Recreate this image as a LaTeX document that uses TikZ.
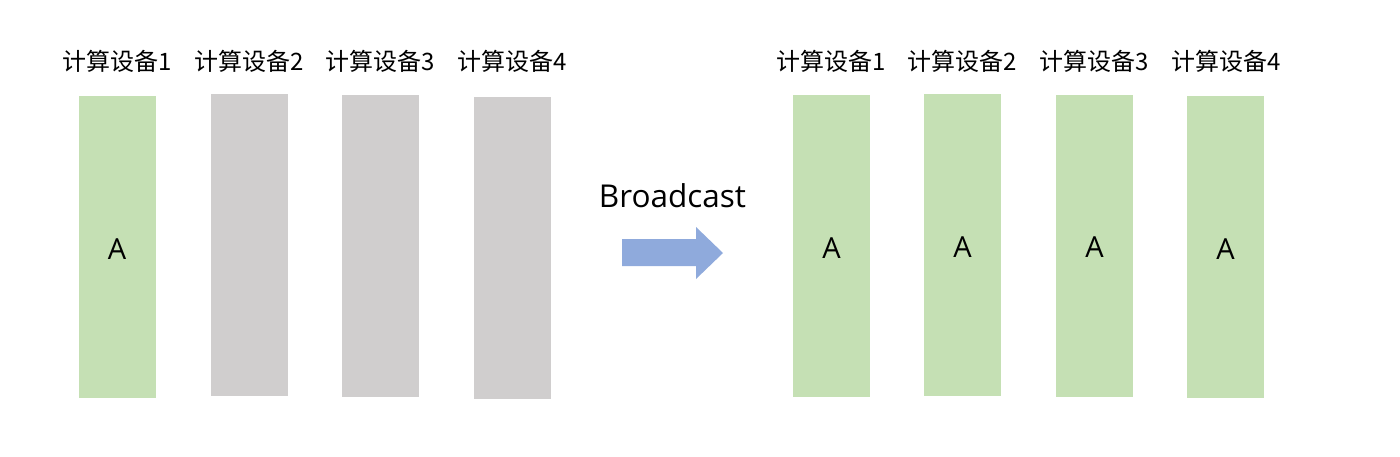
\documentclass[tikz,border=0pt]{standalone}
\usepackage{fontspec}
\setmainfont{Open Sans}
\newfontfamily\cjk{Noto Sans CJK SC}
\definecolor{devgreen}{HTML}{C5E0B4}
\definecolor{devgray}{HTML}{D0CECE}
\definecolor{arrowblue}{HTML}{8FAADC}
\begin{document}
\begin{tikzpicture}[x=1pt,y=-1pt,
  dev/.style={minimum width=77pt, minimum height=302pt, inner sep=0pt, draw=none},
  devlabel/.style={font=\cjk\fontsize{24}{28}\selectfont, inner sep=0pt},
  content/.style={font=\fontsize{29}{34}\selectfont, inner sep=0pt}]
\useasboundingbox (0,0) rectangle (1400,456);
% left group
\node[dev, fill=devgreen] (l1) at (117,247) {};
\node[dev, fill=devgray] (l2) at (249.5,245) {};
\node[dev, fill=devgray] (l3) at (380.5,245.5) {};
\node[dev, fill=devgray] (l4) at (512.5,247.5) {};
\node[content] (la) at (117,249) {A};
\node[devlabel] (t1) at (117,61) {计算设备1};
\node[devlabel] (t2) at (249.5,61) {计算设备2};
\node[devlabel] (t3) at (380.5,61) {计算设备3};
\node[devlabel] (t4) at (512.5,61) {计算设备4};
% arrow
\node[font=\fontsize{31.5}{38}\selectfont, inner sep=0pt, anchor=base] (bc) at (672.5,207) {Broadcast};
\fill[arrowblue] (622,239) -- (696,239) -- (696,227) -- (723,253) -- (696,279) -- (696,266) -- (622,266) -- cycle;
% right group
\node[dev, fill=devgreen] (r1) at (831.5,246) {};
\node[dev, fill=devgreen] (r2) at (962.5,245) {};
\node[dev, fill=devgreen] (r3) at (1094.5,245.5) {};
\node[dev, fill=devgreen] (r4) at (1225.5,246.5) {};
\node[content] (ra1) at (831.5,248) {A};
\node[content] (ra2) at (962.5,247) {A};
\node[content] (ra3) at (1094.5,247) {A};
\node[content] (ra4) at (1225.5,249) {A};
\node[devlabel] (s1) at (831,61) {计算设备1};
\node[devlabel] (s2) at (962.5,61) {计算设备2};
\node[devlabel] (s3) at (1094.5,61) {计算设备3};
\node[devlabel] (s4) at (1226,61) {计算设备4};
\end{tikzpicture}
\end{document}
